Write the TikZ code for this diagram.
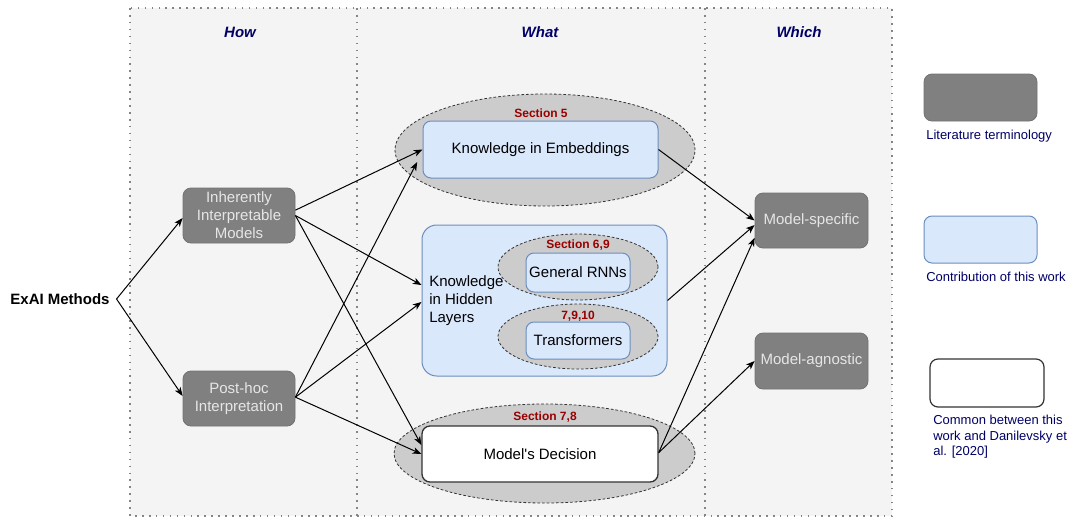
\documentclass[tikz,border=0pt]{standalone}
\usepackage{fontspec}
\setmainfont{Liberation Sans}
\usetikzlibrary{shapes.geometric,arrows.meta,calc}
\definecolor{panelbg}{HTML}{F4F4F4}
\definecolor{dotc}{HTML}{858585}
\definecolor{grayfill}{HTML}{808080}
\definecolor{graystroke}{HTML}{727272}
\definecolor{graytext}{HTML}{E6E6E6}
\definecolor{bluefill}{HTML}{DAE8FC}
\definecolor{bluestroke}{HTML}{6C8EBF}
\definecolor{ellfill}{HTML}{CCCCCC}
\definecolor{navy}{HTML}{000066}
\definecolor{secred}{HTML}{990000}
\definecolor{darkline}{HTML}{333333}
\newcommand\fsmain{\fontsize{11.25}{13.5}\selectfont}
\newcommand\fssec{\fontsize{9}{10.8}\selectfont}
\newcommand\fsleg{\fontsize{9.75}{11.6}\selectfont}
\tikzset{
  graybox/.style={rectangle, rounded corners=6pt, fill=grayfill, draw=graystroke, line width=0.6pt,
    text=graytext, font=\fsmain, align=center, inner sep=0pt},
  bluebox/.style={rectangle, rounded corners=6pt, fill=bluefill, draw=bluestroke, line width=0.75pt,
    text=black, font=\fsmain, align=center, inner sep=0pt},
  whitebox/.style={rectangle, rounded corners=6pt, fill=white, draw=darkline, line width=1pt,
    text=black, font=\fsmain, align=center, inner sep=0pt},
  sectell/.style={ellipse, fill=ellfill, draw=darkline, dashed, dash pattern=on 2pt off 1.5pt,
    line width=0.6pt, inner sep=0pt},
  seclabel/.style={text=secred, font=\fssec\bfseries, inner sep=0pt},
  heading/.style={text=navy, font=\fsmain\bfseries\itshape, inner sep=0pt},
  legtext/.style={text=navy, font=\fsleg, inner sep=0pt, anchor=west, align=left},
  dotline/.style={draw=dotc, line width=1.2pt, dash pattern=on 1.2pt off 4pt},
  arr/.style={draw=black, line width=0.75pt, -{Stealth[length=6.5pt,width=5pt,inset=1.8pt]}}
}
\begin{document}
\begin{tikzpicture}[x=0.75pt,y=-0.75pt]
\useasboundingbox (0,0) rectangle (1071,518);
% panel
\fill[panelbg] (130,8) rectangle (892,516);
\draw[dotline] (130,8) rectangle (892,516);
\draw[dotline] (357,8) -- (357,516);
\draw[dotline] (705,8) -- (705,516);
% headings
\node[heading] (hHow) at (240,32) {How};
\node[heading] (hWhat) at (540,32) {What};
\node[heading] (hWhich) at (799,32) {Which};
% root
\node[font=\fsmain\bfseries, inner sep=5pt] (exai) at (60,299) {ExAI Methods};
% how boxes
\node[graybox, minimum width=84pt, minimum height=41.25pt] (inh) at (239,215.5) {Inherently\\Interpretable\\Models};
\node[graybox, minimum width=84pt, minimum height=41.25pt] (post) at (239,398.5) {Post-hoc\\Interpretation};
% what: ellipses and boxes
\node[sectell, minimum width=225pt, minimum height=84pt] (e5) at (545,150) {};
\node[sectell, minimum width=225.75pt, minimum height=74.25pt] (e78) at (544.5,453.5) {};
\node[bluebox, minimum width=176.25pt, minimum height=42.75pt] (emb) at (540.5,149.5) {Knowledge in Embeddings};
\node[whitebox, minimum width=177pt, minimum height=42pt] (dec) at (540,454) {Model\textquotesingle s Decision};
\node[bluebox, rounded corners=11pt, minimum width=183.75pt, minimum height=113.25pt] (hid) at (544.5,300.5) {};
\node[anchor=west, align=left, font=\fsmain, inner sep=0pt] (hidtxt) at (429,301) {Knowledge\\in Hidden\\Layers};
\node[sectell, minimum width=120pt, minimum height=49.5pt] (e69) at (578,267) {};
\node[sectell, minimum width=120pt, minimum height=48.75pt] (e7910) at (578,336.5) {};
\node[bluebox, minimum width=78pt, minimum height=29.25pt] (rnn) at (578,272.5) {General RNNs};
\node[bluebox, minimum width=78pt, minimum height=27.75pt] (trf) at (578,340.5) {Transformers};
% section labels
\node[seclabel] (s5) at (541,113) {Section 5};
\node[seclabel] (s69) at (578,245) {Section 6,9};
\node[seclabel] (s7910) at (578,316) {7,9,10};
\node[seclabel] (s78) at (545,417) {Section 7,8};
% which boxes
\node[graybox, minimum width=84.75pt, minimum height=41.25pt] (ms) at (811.5,220.5) {Model-specific};
\node[graybox, minimum width=84.75pt, minimum height=42pt] (ma) at (811.5,361) {Model-agnostic};
% legend
\node[graybox, minimum width=84.75pt, minimum height=35.25pt] (leg1) at (980.5,97.5) {};
\node[legtext] (leg1t) at (926,136) {Literature terminology};
\node[bluebox, minimum width=84.75pt, minimum height=35.25pt] (leg2) at (980.5,239.5) {};
\node[legtext] (leg2t) at (926,277) {Contribution of this work};
\node[whitebox, line width=0.9pt, minimum width=85.5pt, minimum height=36pt] (leg3) at (987,383) {};
\node[legtext, anchor=north west] (leg3t) at (933,415) {Common between this\\work and Danilevsky et\\al. [2020]};
% connectors
\draw[arr] (exai.east) -- ([yshift=-1.9pt]inh.west);
\draw[arr] (exai.east) -- ([yshift=1.9pt]post.west);
\draw[arr] ([yshift=4pt]inh.east) -- (emb.west);
\draw[arr] (inh.east) -- ([yshift=11.6pt]hid.west);
\draw[arr] (inh.east) -- ([yshift=6.75pt]dec.west);
\draw[arr] ([yshift=1pt]post.east) -- ([xshift=-4pt,yshift=-9.4pt]emb.west);
\draw[arr] ([yshift=1pt]post.east) -- ([yshift=-1.1pt]hid.west);
\draw[arr] ([yshift=1pt]post.east) -- (dec.west);
\draw[arr] (emb.east) -- (ms.west);
\draw[arr] (hid.east) -- ([yshift=-3.4pt]ms.west);
\draw[arr] ([yshift=1pt]dec.east) -- ([yshift=-13pt]ms.west);
\draw[arr] ([yshift=1pt]dec.east) -- (ma.west);
\end{tikzpicture}
\end{document}
